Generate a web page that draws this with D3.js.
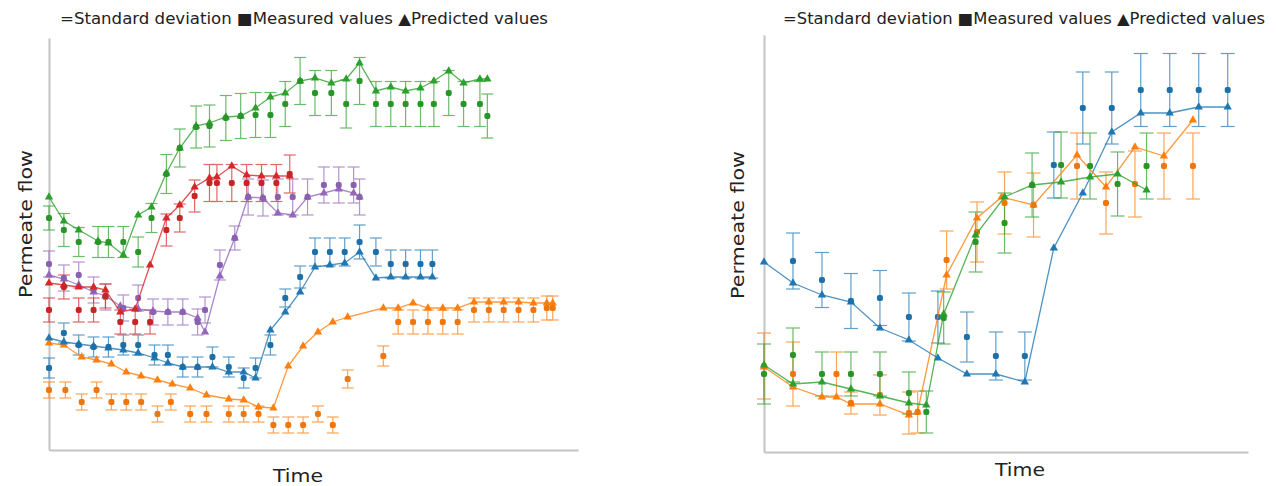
<!DOCTYPE html>
<html><head><meta charset="utf-8">
<script src="https://cdn.jsdelivr.net/npm/d3@7"></script>
<style>
body{margin:0;background:#fff;}
svg text{font-family:"DejaVu Sans",Verdana,sans-serif;fill:#222;}
</style></head>
<body><svg id="c" width="1276" height="486"></svg>
<script>
// ---------- DATA ----------
const legendText = "=Standard deviation \u25A0Measured values \u25B2Predicted values";
const xLabel = "Time";
const yLabel = "Permeate flow";

// Left panel: [time, predicted]
const L_green_pred = [[0,25.3],[5,22.9],[10,22.0],[16.5,20.9],[20,20.7],[25,19.5],[30,23.5],[34.5,24.3],[39.5,27.7],[44,30.2],[49.5,32.4],[54,32.7],[59.5,33.3],[64.5,33.4],[69.5,34.2],[74.5,35.3],[79.5,35.7],[84.5,36.9],[89.5,37.2],[95,36.7],[100,37.1],[104.5,38.7],[110,35.9],[115,36.3],[120,35.9],[125,36.2],[129.5,36.9],[134.5,37.9],[139.5,36.7],[145,37.1],[147.5,37.1]];
// Left panel: [time, measured, sd]
const L_green_meas = [[0,23.2,1.2],[5,22.0,1.65],[10,20.8,1.45],[16.5,20.8,1.55],[20,20.8,1.55],[25,20.8,1.55],[30,19.8,1.5],[34.5,23.2,1.45],[39.5,27.6,1.95],[44,30.2,1.9],[49.5,32.3,2.1],[54,32.4,2.1],[59.5,33.2,2.25],[64.5,33.4,2.25],[69.5,33.5,2.25],[74.5,33.5,2.25],[79.5,34.6,2.25],[84.5,36.9,2.35],[89.5,35.7,2.25],[95,35.7,2.25],[100,34.6,2.4],[104.5,36.9,2.35],[110,34.6,2.25],[115,34.6,2.25],[120,34.6,2.25],[125,34.6,2.25],[129.5,34.6,2.25],[134.5,35.7,2.25],[139.5,34.6,2.25],[145,34.6,2.25],[147.5,33.4,2.2]];

const L_red_pred = [[0,16.7],[5,16.5],[10,16.3],[15,16.3],[19,16.0],[24,13.8],[29,14.1],[34,18.5],[39.5,23.2],[44,24.5],[49,26.3],[54,27.2],[56.5,27.3],[61.5,28.4],[66.5,27.5],[71.5,27.4],[76.5,27.4],[81,27.4]];
const L_red_meas = [[0,14.0,1.2],[5,16.3,1.2],[10,14.0,1.2],[15,14.0,1.2],[19,15.4,1.2],[24,12.8,1.2],[29,12.8,1.2],[34,12.8,1.2],[39.5,22.0,1.6],[44,23.2,1.4],[49,25.4,1.6],[54,26.7,1.85],[56.5,26.7,1.85],[61.5,26.7,1.85],[66.5,26.7,1.85],[71.5,26.7,1.85],[76.5,26.7,1.85],[81,27.6,1.9]];

const L_purple_pred = [[0,17.5],[5,17.1],[10,16.5],[15,15.8],[19,15.4],[24,14.4],[30,14.1],[35,13.9],[40,13.8],[45,13.8],[50,13.2],[52.5,11.8],[57.5,17.4],[62.5,21.2],[67,25.3],[72,25.2],[77,23.7],[82,23.5],[87,25.3],[92.5,25.7],[97.5,26.1],[102.5,25.7],[104.5,25.3]];
const L_purple_meas = [[0,18.6,1.3],[5,17.2,1.3],[10,17.5,1.3],[15,16.0,1.3],[19,15.3,1.3],[25,14.2,1.3],[30,15.2,1.3],[35,13.8,1.3],[40,13.8,1.3],[45,13.8,1.3],[50,12.8,1.3],[52.5,14.0,1.3],[57.5,18.5,1.5],[62.5,21.2,1.2],[67,25.3,1.8],[72,25.2,1.8],[77,25.3,1.8],[82,25.3,1.8],[87,25.3,1.8],[92.5,26.5,1.8],[97.5,26.5,1.8],[102.5,26.5,1.8],[104.5,25.3,1.8]];

const L_blue_pred = [[0,11.2],[5,10.8],[10,10.6],[15,10.4],[20,10.2],[25,10.0],[30,9.7],[35.5,9.2],[40,8.7],[45,8.3],[50,8.3],[55,8.3],[60.5,7.8],[65.5,7.8],[69.5,7.2],[74.5,12.0],[79.5,13.8],[84.5,15.8],[89.5,18.3],[94.5,18.5],[99.5,18.7],[104.5,19.8],[110,17.2],[115,17.3],[120,17.3],[125,17.3],[129,17.3]];
const L_blue_meas = [[0,8.2,1.0],[5,11.7,1.0],[10,10.5,1.0],[15,10.3,1.0],[20,10.3,1.0],[25,10.5,1.0],[30,10.5,1.0],[35.5,9.5,1.0],[40,9.5,1.0],[45,8.3,1.0],[50,8.3,1.0],[55,9.3,1.0],[60.5,8.3,1.0],[65.5,7.2,1.0],[69.5,8.2,1.0],[74.5,10.5,1.0],[79.5,15.2,0.9],[84.5,17.3,1.1],[89.5,19.8,1.4],[94.5,19.8,1.4],[99.5,19.8,1.4],[104.5,20.8,1.7],[110,19.8,1.4],[115,18.6,1.4],[120,18.6,1.4],[125,18.6,1.4],[129,18.6,1.4]];

const L_orange_pred = [[0,10.7],[5,10.5],[11,9.3],[16,9.0],[21,8.6],[26,7.8],[31,7.4],[36.5,7.0],[41.5,6.6],[47.5,6.2],[53,5.5],[60.5,5.1],[65.5,5.0],[70.5,4.3],[75.5,4.2],[80.5,8.4],[85.5,10.4],[90.5,11.8],[95.5,12.8],[100.5,13.3],[112.5,14.2],[117.5,14.2],[122.5,14.7],[127.5,14.2],[132.5,14.2],[137.5,14.2],[143,14.8],[148,14.8],[153,14.8],[158,14.8],[163,14.7],[167.5,14.7],[169.5,14.7]];
const L_orange_meas = [[0,6.0,0.8],[5.5,6.0,0.8],[11,4.8,0.8],[16,6.0,0.8],[21,4.8,0.8],[26,4.8,0.8],[31,4.8,0.8],[36.5,3.6,0.8],[41,4.8,0.8],[47.5,3.6,0.8],[53,3.6,0.8],[60.5,3.6,0.8],[65.5,3.6,0.8],[70.5,3.6,0.8],[75.5,2.5,0.8],[80.5,2.5,0.8],[85.5,2.5,0.8],[90.5,3.6,0.8],[95.5,2.5,0.8],[100.5,7.1,0.9],[112.5,9.4,1.0],[117.5,12.8,1.2],[122.5,12.8,1.2],[127.5,12.8,1.2],[132.5,12.8,1.2],[137.5,12.8,1.2],[143,14.0,1.2],[148,14.0,1.2],[153,14.0,1.2],[158,14.0,1.2],[163,14.0,1.2],[167.5,14.2,1.2],[169.5,14.2,1.2]];

// Right panel
const R_blue_pred = [[0,19.0],[10,16.9],[20,15.7],[30,15.0],[40,12.4],[50,11.2],[60,9.4],[70,7.8],[80,7.8],[90,7.0],[100,20.4],[110,25.9],[120,32.0],[130,33.9],[140,33.9],[150,34.5],[160,34.5]];
const R_blue_meas = [[10,19.1,2.8],[20,17.2,2.75],[30,15.1,2.75],[40,15.4,2.75],[50,13.5,2.4],[60,13.5,2.6],[70,11.5,2.5],[80,9.6,2.4],[90,9.6,2.4],[100,28.7,3.3],[110,34.4,3.6],[120,34.4,3.6],[130,36.2,3.65],[140,36.2,3.65],[150,36.2,3.65],[160,36.2,3.65]];

const R_green_pred = [[0,8.7],[10,6.8],[20,7.0],[30,6.3],[40,5.6],[50,4.9],[56,4.7],[62,13.8],[73,21.7],[83,25.5],[92.5,26.7],[102.5,27.0],[112.5,27.5],[122,27.8],[132,26.2]];
const R_green_meas = [[0,7.8,3.0],[10,9.7,2.7],[20,7.8,2.2],[30,7.8,2.2],[40,7.8,2.2],[50,5.9,2.1],[56,4.0,2.1],[62,13.4,2.6],[73,21.0,3.0],[83,22.9,3.0],[92.5,26.7,3.2],[102.5,28.7,3.3],[112.5,28.6,3.3],[122,26.8,3.2],[132,28.6,3.3]];

const R_orange_pred = [[0,8.5],[10,6.5],[20,5.5],[25,5.5],[30,4.8],[40,4.8],[50,3.7],[53,4.0],[63,17.7],[73.5,23.4],[82,25.5],[93,24.7],[108,29.7],[118,26.5],[128,30.5],[138,29.6],[148,33.2]];
const R_orange_meas = [[0,8.6,3.3],[10,7.8,3.2],[25,7.8,2.2],[30,4.9,1.1],[40,5.7,2.0],[50,3.9,2.1],[53,4.0,2.1],[63,19.2,2.9],[73.5,22.0,3.0],[83,24.9,3.1],[93,24.7,3.2],[108,28.6,3.3],[118,24.9,3.1],[128,26.8,3.3],[138,28.6,3.3],[148,28.6,3.3]];

const COLORS = {green:"#2ca02c", red:"#d62728", purple:"#9467bd", blue:"#1f77b4", orange:"#ff7f0e"};

// ---------- DRAW ----------
const svg = d3.select("#c");

function panel(cfg){
  const x = d3.scaleLinear().domain(cfg.xDomain).range(cfg.xRange);
  const y = d3.scaleLinear().domain(cfg.yDomain).range(cfg.yRange);
  const g = svg.append("g");
  const xa = g.append("g").attr("transform",`translate(0,${cfg.yRange[0]})`)
    .call(d3.axisBottom(x).tickValues([]).tickSizeOuter(0));
  const ya = g.append("g").attr("transform",`translate(${cfg.xRange[0]},0)`)
    .call(d3.axisLeft(y).tickValues([]).tickSizeOuter(0));
  [xa,ya].forEach(a=>a.select(".domain").attr("stroke","#c4c4c4").attr("stroke-width",2));

  const tri = d3.symbol().type(d3.symbolTriangle).size(cfg.triSize);
  cfg.series.forEach(s=>{
    const c = COLORS[s.color];
    const eg = g.append("g").attr("stroke",c).attr("stroke-width",1.2).attr("opacity",0.7);
    s.meas.forEach(d=>{
      const cx = x(d[0]), y1 = y(d[1]-d[2]), y2 = y(d[1]+d[2]);
      eg.append("line").attr("x1",cx).attr("x2",cx).attr("y1",y1).attr("y2",y2);
      eg.append("line").attr("x1",cx-cfg.cap).attr("x2",cx+cfg.cap).attr("y1",y1).attr("y2",y1);
      eg.append("line").attr("x1",cx-cfg.cap).attr("x2",cx+cfg.cap).attr("y1",y2).attr("y2",y2);
    });
  });
  cfg.series.forEach(s=>{
    const c = COLORS[s.color];
    g.append("path").datum(s.pred)
      .attr("fill","none").attr("stroke",c).attr("stroke-width",1.3).attr("opacity",0.8)
      .attr("d", d3.line().x(d=>x(d[0])).y(d=>y(d[1])));
    g.append("g").selectAll("path").data(s.pred).join("path")
      .attr("d",tri).attr("fill",c)
      .attr("transform",d=>`translate(${x(d[0])},${y(d[1])})`);
    g.append("g").selectAll("rect").data(s.meas).join("rect")
      .attr("x",d=>x(d[0])-3).attr("y",d=>y(d[1])-3).attr("width",6).attr("height",6)
      .attr("rx",2).attr("fill",d3.color(c).darker(0.2));
  });
  g.append("text").attr("x",cfg.legendX).attr("y",24).attr("font-size",15.5).attr("fill","#333")
    .attr("textLength",cfg.legendW).attr("lengthAdjust","spacingAndGlyphs").text(legendText);
  g.append("text").attr("transform",`translate(${cfg.yLabelX},${cfg.yLabelY}) rotate(-90)`)
    .attr("text-anchor","middle").attr("font-size",18.5)
    .attr("textLength",148).attr("lengthAdjust","spacingAndGlyphs").text(yLabel);
  g.append("text").attr("x",cfg.xLabelX).attr("y",cfg.xLabelY).attr("text-anchor","middle")
    .attr("font-size",18.5).attr("textLength",50).attr("lengthAdjust","spacingAndGlyphs").text(xLabel);
}

panel({
  xDomain:[0,178], xRange:[49,578], yDomain:[0,41.2], yRange:[450,38],
  cap:6, triSize:30, legendX:60, legendW:488, yLabelX:32, yLabelY:224, xLabelX:298, xLabelY:482,
  series:[
    {color:"orange", pred:L_orange_pred, meas:L_orange_meas},
    {color:"blue", pred:L_blue_pred, meas:L_blue_meas},
    {color:"purple", pred:L_purple_pred, meas:L_purple_meas},
    {color:"red", pred:L_red_pred, meas:L_red_meas},
    {color:"green", pred:L_green_pred, meas:L_green_meas}
  ]
});
panel({
  xDomain:[0,167], xRange:[764,1248], yDomain:[0,41.7], yRange:[452,35],
  cap:7, triSize:30, legendX:783, legendW:482, yLabelX:744, yLabelY:225, xLabelX:1020, xLabelY:476,
  series:[
    {color:"blue", pred:R_blue_pred, meas:R_blue_meas},
    {color:"orange", pred:R_orange_pred, meas:R_orange_meas},
    {color:"green", pred:R_green_pred, meas:R_green_meas}
  ]
});
</script></body></html>
